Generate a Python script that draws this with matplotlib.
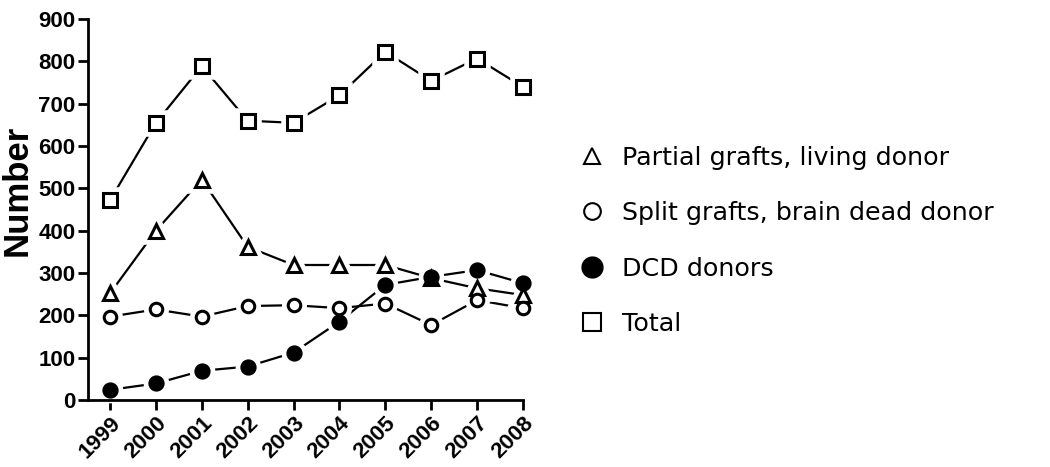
import matplotlib.pyplot as plt
from matplotlib.lines import Line2D
import numpy as np

years = [1999, 2000, 2001, 2002, 2003, 2004, 2005, 2006, 2007, 2008]
partial = [252, 400, 521, 362, 319, 319, 319, 288, 264, 248]
split = [197, 214, 197, 222, 224, 217, 228, 177, 236, 217]
dcd = [24, 39, 69, 79, 112, 185, 272, 291, 307, 276]
total = [472, 655, 789, 660, 655, 720, 823, 754, 807, 740]

labels = ["Partial grafts, living donor", "Split grafts, brain dead donor",
          "DCD donors", "Total"]

fig = plt.figure(figsize=(10.5, 4.67), dpi=100)
ax = fig.add_axes([0.0838, 0.1435, 0.4142, 0.8155])

series = [
    (partial, '^', 'white', 9.5),
    (split, 'o', 'white', 9),
    (dcd, 'o', 'black', 9.5),
    (total, 's', 'white', 10),
]

# lines first, then a white halo so the lines stop short of the markers
for vals, mk, fc, ms in series:
    ax.plot(years, vals, '-', color='black', lw=1.6, zorder=1, clip_on=False)
for vals, mk, fc, ms in series:
    ax.plot(years, vals, linestyle='none', marker=mk, ms=ms, mew=9,
            mfc='white', mec='white', zorder=2, clip_on=False)
for vals, mk, fc, ms in series:
    ax.plot(years, vals, linestyle='none', marker=mk, ms=ms,
            mfc=fc, mec='black', mew=2.2, zorder=3, clip_on=False)

ax.set_xlim(1998.52, 2008)
ax.set_ylim(0, 900)
ax.set_yticks(np.arange(0, 901, 100))
ax.set_xticks(years)
ax.set_xticklabels([str(y) for y in years], rotation=45, ha='right',
                   rotation_mode='anchor', fontsize=16, fontweight='bold',
                   family='Liberation Sans')
for t in ax.get_yticklabels():
    t.set_fontsize(16)
    t.set_fontweight('bold')
    t.set_family('Liberation Sans')
ax.set_ylabel('Number', fontsize=25, fontweight='bold', family='Liberation Sans')
ax.yaxis.set_label_coords(-0.126, 0.551)

for s in ['top', 'right']:
    ax.spines[s].set_visible(False)
for s in ['left', 'bottom']:
    ax.spines[s].set_linewidth(2)
ax.tick_params(width=2, length=7, direction='out', pad=2)

handles = [
    Line2D([], [], linestyle='none', marker='^', ms=12, mfc='white', mec='black', mew=1.5),
    Line2D([], [], linestyle='none', marker='o', ms=12, mfc='white', mec='black', mew=1.5),
    Line2D([], [], linestyle='none', marker='o', ms=15, mfc='black', mec='black'),
    Line2D([], [], linestyle='none', marker='s', ms=13, mfc='white', mec='black', mew=1.5),
]
fig.legend(handles, labels, loc='center left', bbox_to_anchor=(0.552, 0.484),
           frameon=False, fontsize=18.3, labelspacing=1.24, handlelength=1.0,
           handletextpad=0.65, borderaxespad=0, borderpad=0)

fig.savefig('out.png', dpi=100)
